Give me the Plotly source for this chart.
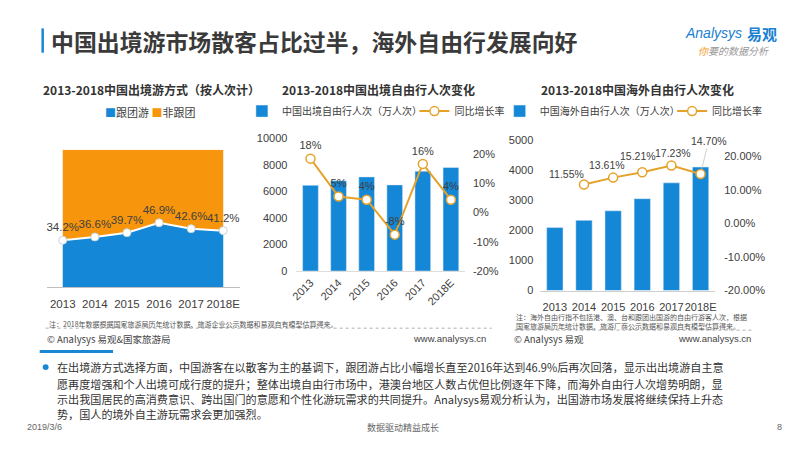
import plotly.graph_objects as go

# ---- data ----
years = ['2013', '2014', '2015', '2016', '2017', '2018E']

# chart 1: share of outbound trips (%)
group_share = [34.2, 36.6, 39.7, 46.9, 42.6, 41.2]
nongroup_share = [65.8, 63.4, 60.3, 53.1, 57.4, 58.8]
group_labels = ['34.2%', '36.6%', '39.7%', '46.9%', '42.6%', '41.2%']

# chart 2: outbound free independent travel (10k trips) and yoy growth (%)
fit_trips = [6450, 6800, 7080, 6480, 7510, 7790]
fit_growth = [18.3, 5.4, 4.3, -7.6, 16.5, 4.3]
fit_growth_labels = ['18%', '5%', '4%', '-8%', '16%', '4%']

# chart 3: overseas free independent travel (10k trips) and yoy growth (%)
os_trips = [2090, 2331, 2648, 3051, 3577, 4103]
os_growth_years = ['2014', '2015', '2016', '2017', '2018E']
os_growth = [11.55, 13.61, 15.21, 17.23, 14.70]
os_growth_labels = ['11.55%', '13.61%', '15.21%', '17.23%', '14.70%']

pct_ticks = [-20, -10, 0, 10, 20]
pct_ticktext = ['-20%', '-10%', '0%', '10%', '20%']
pct_ticktext2 = ['-20.00%', '-10.00%', '0.00%', '10.00%', '20.00%']

BLUE = '#1487d6'
ORANGE = '#f7960d'
GOLD = '#e5a22a'
TXT = '#404040'
FONT = 'Liberation Sans, Noto Sans CJK SC, sans-serif'
CJK = 'Noto Sans CJK SC, sans-serif'

W, H = 800, 450


def px(x):
    return x / W


def py(y):
    return 1 - y / H


fig = go.Figure()

# chart 1 - stacked area
fig.add_trace(go.Scatter(x=years, y=group_share, name='跟团游', stackgroup='a',
                         mode='lines', line=dict(width=0), fillcolor=BLUE, showlegend=False))
fig.add_trace(go.Scatter(x=years, y=nongroup_share, name='非跟团', stackgroup='a',
                         mode='lines', line=dict(width=0), fillcolor=ORANGE, showlegend=False))
fig.add_trace(go.Scatter(x=years, y=group_share, mode='lines+markers+text',
                         line=dict(color='white', width=2),
                         marker=dict(size=8, color='white', line=dict(color='#c8d4de', width=1)),
                         text=group_labels, textposition='top center',
                         textfont=dict(size=11.5, color=TXT, family=FONT),
                         showlegend=False, cliponaxis=False))

# chart 2 - bars + growth line
fig.add_trace(go.Bar(x=years, y=fit_trips, name='中国出境自由行人次（万人次）',
                     marker=dict(color=BLUE), xaxis='x2', yaxis='y2', legend='legend2'))
fig.add_trace(go.Scatter(x=years, y=fit_growth, name='同比增长率', mode='lines+markers+text',
                         line=dict(color=GOLD, width=2),
                         marker=dict(size=9, color='white', line=dict(color=GOLD, width=1.5)),
                         text=fit_growth_labels, textposition='top center',
                         textfont=dict(size=11, color=TXT, family=FONT),
                         xaxis='x2', yaxis='y3', legend='legend3', cliponaxis=False))

# chart 3 - bars + growth line
fig.add_trace(go.Bar(x=years, y=os_trips, name='中国海外自由行人次（万人次）',
                     marker=dict(color=BLUE), xaxis='x3', yaxis='y4', legend='legend4'))
fig.add_trace(go.Scatter(x=os_growth_years, y=os_growth, name='同比增长率', mode='lines+markers',
                         line=dict(color=GOLD, width=2),
                         marker=dict(size=9, color='white', line=dict(color=GOLD, width=1.5)),
                         xaxis='x3', yaxis='y5', legend='legend5', cliponaxis=False))

# growth labels for chart 3 (category index on x, offsets in px)
label_shift = [(-17, 11), (-6, 13), (-4, 16), (2, 12)]
for yr, val, lab, (dx, dy) in zip(os_growth_years, os_growth, os_growth_labels, label_shift):
    fig.add_annotation(x=years.index(yr), y=val, xref='x3', yref='y5', text=lab, showarrow=False,
                       xshift=dx, yshift=dy, font=dict(size=10.5, color=TXT, family=FONT))
fig.add_annotation(x=years.index(os_growth_years[4]), y=os_growth[4], xref='x3', yref='y5',
                   text=os_growth_labels[4], showarrow=True, arrowhead=0, arrowwidth=0.7,
                   arrowcolor='#bbbbbb', ax=8, ay=-33, standoff=4,
                   font=dict(size=10.5, color=TXT, family=FONT))

tickfont = dict(size=11, color=TXT, family=FONT)
legfont = dict(size=10, family=CJK, color=TXT)


def leg(x):
    return dict(orientation='h', x=px(x), y=py(108), xanchor='left', yanchor='middle',
                font=legfont, itemwidth=30, bgcolor='rgba(0,0,0,0)')


fig.update_layout(
    width=W, height=H,
    margin=dict(l=0, r=0, t=0, b=0),
    paper_bgcolor='white', plot_bgcolor='rgba(0,0,0,0)',
    font=dict(family=FONT, color=TXT),
    bargap=0.44,
    xaxis=dict(domain=[px(41.7), px(236)], type='category', range=[-0.48, 5.52], tickangle=0,
               showline=True, linecolor='#bfbfbf', ticks='', showgrid=False,
               ticklabelstandoff=6, tickfont=dict(size=11.5, color=TXT, family=FONT)),
    yaxis=dict(domain=[py(289), py(147.7)], range=[0, 100], visible=False),
    xaxis2=dict(domain=[px(293), px(463)], anchor='y2', type='category', tickangle=-45,
                range=[-0.5, 5.5], showline=True, linecolor='#dddddd', ticks='',
                showgrid=False, tickfont=tickfont),
    yaxis2=dict(domain=[py(272.3), py(135.7)], anchor='x2', range=[0, 10000], dtick=2000,
                tickformat='d', showgrid=False, zeroline=False, tickfont=tickfont,
                ticklabelstandoff=8),
    yaxis3=dict(overlaying='y2', anchor='x2', side='right', range=[-20, 25.3],
                tickmode='array', tickvals=pct_ticks, ticktext=pct_ticktext, showgrid=False,
                zeroline=False, tickfont=tickfont, ticklabelstandoff=7),
    xaxis3=dict(domain=[px(539), px(715.4)], anchor='y4', type='category', range=[-0.5, 5.5],
                tickangle=0, showline=True, linecolor='#cfcfcf', ticks='', showgrid=False,
                ticklabelstandoff=6, tickfont=tickfont),
    yaxis4=dict(domain=[py(292.3), py(137.7)], anchor='x3', range=[0, 5000], dtick=1000,
                tickformat='d', showgrid=False, zeroline=False, tickfont=tickfont,
                ticklabelstandoff=6),
    yaxis5=dict(overlaying='y4', anchor='x3', side='right', range=[-20, 24.8],
                tickmode='array', tickvals=pct_ticks, ticktext=pct_ticktext2,
                showgrid=False, zeroline=False, tickfont=tickfont, ticklabelstandoff=8),
    legend2=leg(238),
    legend3=leg(412),
    legend4=leg(498),
    legend5=leg(672),
)

# ---- slide furniture ----
shapes = [
    dict(type='line', xref='paper', yref='paper', x0=px(37), x1=px(37), y0=py(23), y1=py(48),
         line=dict(color='#1a87d4', width=2.5)),
    dict(type='line', xref='paper', yref='paper', x0=px(40), x1=px(490), y0=py(331), y1=py(331),
         line=dict(color='#9a9a9a', width=0.8, dash='dot')),
    dict(type='line', xref='paper', yref='paper', x0=px(513), x1=px(752), y0=py(333), y1=py(333),
         line=dict(color='#9a9a9a', width=0.8, dash='dot')),
    dict(type='line', xref='paper', yref='paper', x0=px(34), x1=px(108), y0=py(355), y1=py(355),
         line=dict(color='#1a87d4', width=3)),
    dict(type='circle', xref='paper', yref='paper', x0=px(37), x1=px(43), y0=py(368), y1=py(374),
         fillcolor='#1a87d4', line=dict(width=0)),
]
fig.update_layout(shapes=shapes)


def note(x, y, text, size, color=TXT, bold=False, anchor='left', family=CJK, italic=False):
    if bold:
        text = '<b>' + text + '</b>'
    if italic:
        text = '<i>' + text + '</i>'
    fig.add_annotation(x=px(x), y=py(y), xref='paper', yref='paper', text=text,
                       showarrow=False, xanchor=anchor, yanchor='middle', borderpad=0,
                       font=dict(size=size, color=color, family=family))


note(44, 36, '中国出境游市场散客占比过半，海外自由行发展向好', 22.9, '#3a3a3a', bold=True)
note(684, 28, '<i>Analysys</i>', 14, '#1a7fd0', family=FONT)
note(747, 28, '易观', 15, '#1a7fd0', bold=True)
note(697, 46, '<span style="color:#f29a1e">你</span>要的数据分析', 10, '#999999', italic=True)

note(147, 86, '2013-2018中国出境游方式（按人次计）', 12, '#333333', bold=True, anchor='center')
note(376, 86, '2013-2018中国出境自由行人次变化', 12, '#333333', bold=True, anchor='center')
note(637, 86, '2013-2018中国海外自由行人次变化', 12, '#333333', bold=True, anchor='center')

# legend of chart 1 as coloured squares + names
note(145, 109, '<span style="color:%s">■</span>跟团游 <span style="color:%s">■</span>非跟团'
     % (BLUE, ORANGE), 11, TXT, anchor='center')

note(42, 327, '注：2018年数据根据国家旅游局历年统计数据、旅游企业公示数据和易观自有模型估算得来。', 7, '#555555')
note(40, 342, '© Analysys 易观&国家旅游局', 9.5, '#444444')
note(410, 342, 'www.analysys.cn', 9.5, '#444444', family=FONT)
note(513, 320, '注：海外自由行指不包括港、澳、台和跟团出国游的自由行游客人次，根据', 7, '#555555')
note(513, 329, '国家旅游局历年统计数据、旅游厂商公示数据和易观自有模型估算得来。', 7, '#555555')
note(511, 342, '© Analysys 易观', 9.5, '#444444')
note(677, 342, 'www.analysys.cn', 9.5, '#444444', family=FONT)

body = [
    '在出境游方式选择方面，中国游客在以散客为主的基调下，跟团游占比小幅增长直至2016年达到46.9%后再次回落，显示出出境游自主意',
    '愿再度增强和个人出境可成行度的提升；整体出境自由行市场中，港澳台地区人数占优但比例逐年下降，而海外自由行人次增势明朗，显',
    '示出我国居民的高消费意识、跨出国门的意愿和个性化游玩需求的共同提升。Analysys易观分析认为，出国游市场发展将继续保持上升态',
    '势，国人的境外自主游玩需求会更加强烈。',
]
for line, y in zip(body, [371, 388, 404, 419]):
    note(50, y, line, 11.1, '#333333')

note(20, 433, '2019/3/6', 9, '#666666', family=FONT)
note(400, 433, '数据驱动精益成长', 9, '#666666', anchor='center')
note(777, 433, '8', 9, '#666666', family=FONT)

fig.write_html('out.html', config={'displayModeBar': False},
               post_script="document.body.style.margin='0';"
                           "document.body.style.overflow='hidden';"
                           "document.documentElement.style.overflow='hidden';")
